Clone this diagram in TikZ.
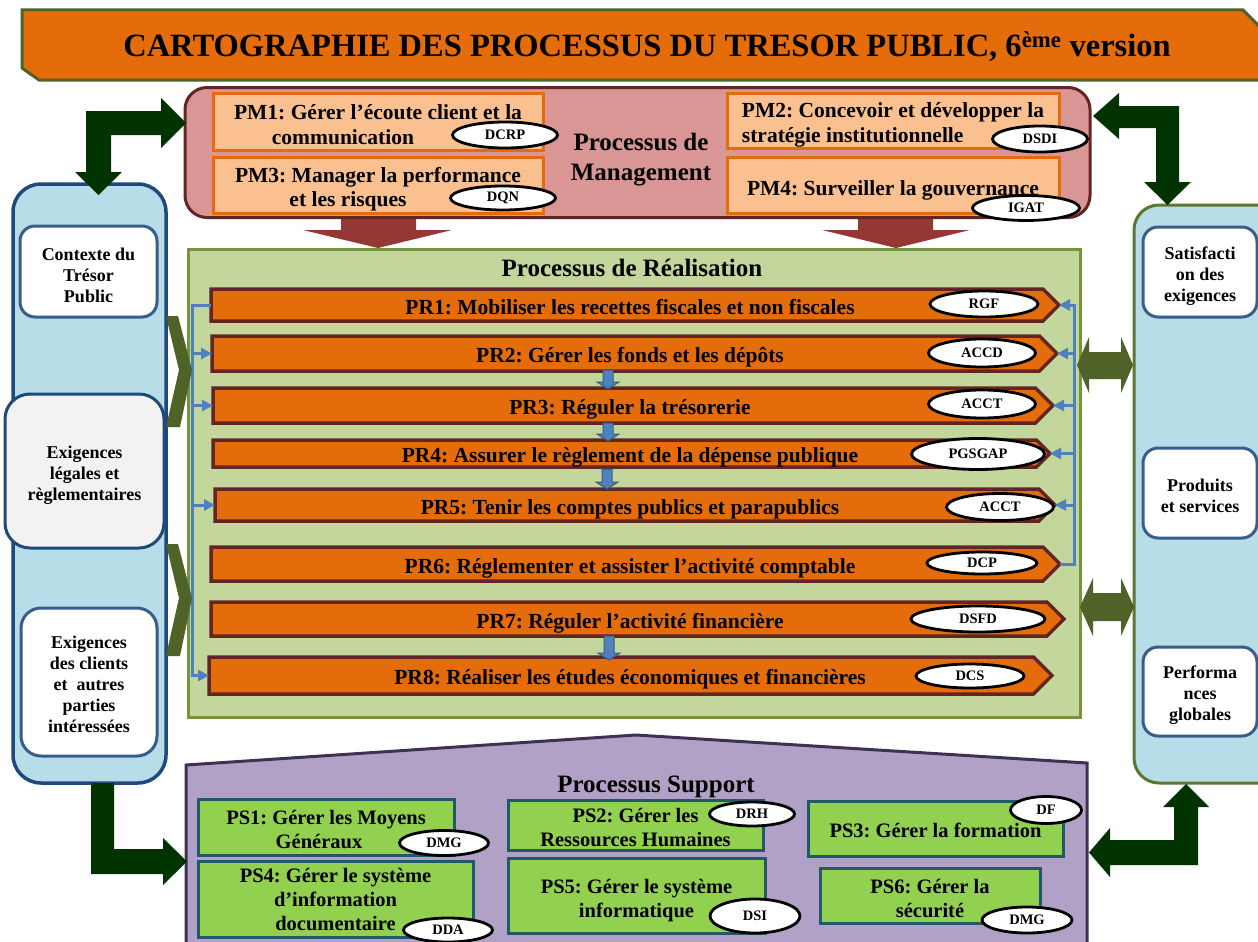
\documentclass[tikz,border=0pt]{standalone}
\usepackage{fontspec}
\setmainfont{Liberation Serif}
\usetikzlibrary{shapes.geometric,arrows.meta}
\frenchspacing
\definecolor{torange}{HTML}{E46C0A}
\definecolor{olive}{HTML}{4F6228}
\definecolor{oliveb}{HTML}{77933C}
\definecolor{rpborder}{HTML}{5F7632}
\definecolor{maroon}{HTML}{632523}
\definecolor{mgfill}{HTML}{D99694}
\definecolor{pmfill}{HTML}{FAC090}
\definecolor{rfill}{HTML}{C3D69B}
\definecolor{lblue}{HTML}{B7DEE8}
\definecolor{dblue}{HTML}{1F497D}
\definecolor{mblue}{HTML}{385D8A}
\definecolor{cblue}{HTML}{4F81BD}
\definecolor{redarrow}{HTML}{953735}
\definecolor{dgreen}{HTML}{003300}
\definecolor{supfill}{HTML}{B2A1C7}
\definecolor{supdraw}{HTML}{3F3151}
\definecolor{psfill}{HTML}{92D050}
\definecolor{psdraw}{HTML}{215968}
\definecolor{greyfill}{HTML}{F2F2F2}
\newcommand{\mystrut}[1]{\rule{0pt}{#1pt}}
% name, x left, x tip, y top, y bottom, text
\newcommand{\prshape}[6]{%
  \pgfmathsetmacro{\prYc}{(#4+#5)/2}%
  \pgfmathsetmacro{\prXc}{#3-(#5-#4)/2}%
  \draw[prs] (#2,#4) -- (\prXc,#4) -- (#3,\prYc) -- (\prXc,#5) -- (#2,#5) -- cycle;
  \coordinate (#1-w) at (#2,\prYc);
  \coordinate (#1-e) at (#3,\prYc);
  \node[prtext] (#1) at (630,{\prYc+9}) {#6};
}
% x, y top, y tip
\newcommand{\bluedown}[3]{%
  \filldraw[fill=cblue, draw=mblue, line width=1pt] ({#1-5},#2) -- ({#1+5},#2) -- ({#1+5},{#3-7}) -- ({#1+11},{#3-7}) -- (#1,#3) -- ({#1-11},{#3-7}) -- ({#1-5},{#3-7}) -- cycle;}
\begin{document}
\begin{tikzpicture}[x=1pt,y=-1pt,
  pmbox/.style={draw=torange, fill=pmfill, line width=3pt, inner sep=0pt, align=center, font=\fontsize{21.5}{24.5}\selectfont\bfseries},
  psbox/.style={draw=psdraw, fill=psfill, line width=3pt, inner sep=0pt, align=center, font=\fontsize{20.5}{24}\selectfont\bfseries},
  tag/.style={ellipse, draw=black, line width=2.8pt, fill=white, inner sep=0pt, font=\fontsize{14.5}{16}\selectfont\bfseries},
  heading/.style={inner sep=0pt, align=center, font=\fontsize{25}{30}\selectfont\bfseries},
  prs/.style={draw=maroon, fill=torange, line width=3.5pt},
  prtext/.style={anchor=base, inner sep=0pt, font=\fontsize{21.5}{25}\selectfont\bfseries},
  panelbox/.style={draw=mblue, fill=white, line width=3pt, rounded corners=15pt, inner sep=0pt, align=center, font=\fontsize{18}{21}\selectfont\bfseries},
  busarrow/.style={draw=cblue, line width=3pt, -{Triangle[length=11pt,width=11pt]}},
  darrow/.style={fill=dgreen},
  oarrow/.style={fill=olive},
  rarrow/.style={fill=redarrow}]
\useasboundingbox (0,0) rectangle (1258,942);
\fill[white] (0,0) rectangle (1258,942);

% ---------- title ----------
\filldraw[draw=olive, fill=torange, line width=3pt] (22,10) -- (1243,10) -- (1262,29) -- (1262,80) -- (39,80) -- (22,68) -- cycle;
\node[anchor=base, inner sep=0pt, font=\fontsize{32.5}{36}\selectfont\bfseries] (title) at (647,57) {CARTOGRAPHIE DES PROCESSUS DU TRESOR PUBLIC, 6\textsuperscript{ème} version};

% ---------- management ----------
\fill[rarrow] (341,214) -- (416,214) -- (416,230) -- (452,230) -- (378,248) -- (303,230) -- (341,230) -- cycle;
\fill[rarrow] (858,214) -- (933,214) -- (933,230) -- (970,230) -- (896,248) -- (822,230) -- (858,230) -- cycle;
\node[draw=maroon, fill=mgfill, line width=3pt, rounded corners=22pt, minimum width=905pt, minimum height=130pt] (mgmt) at (637.5,152.5) {};
\node[pmbox, minimum width=330pt, minimum height=57pt] (pm1) at (378,121.5) {\mystrut{21}PM1: Gérer l’écoute client et la\\communication\hspace*{70pt}};
\node[pmbox, minimum width=330pt, minimum height=56pt] (pm3) at (378,185) {\mystrut{24}PM3: Manager la performance\\et les risques\hspace*{60pt}};
\node[pmbox, align=left, minimum width=332pt, minimum height=55pt] (pm2) at (893,120.5) {\mystrut{24}PM2: Concevoir et développer la\\stratégie institutionnelle};
\node[pmbox, minimum width=332pt, minimum height=56pt] (pm4) at (893,185) {\mystrut{25}PM4: Surveiller la gouvernance};
\node[heading] (mgtitle) at (641,160) {Processus de\\Management};
\node[tag, minimum width=105pt, minimum height=26pt] (dcrp) at (505,135) {DCRP};
\node[tag, minimum width=105pt, minimum height=24pt] (dqn) at (503,198) {DQN};
\node[tag, minimum width=95pt, minimum height=26pt] (dsdi) at (1040,139) {DSDI};
\node[tag, minimum width=107pt, minimum height=25pt] (igat) at (1026,208) {IGAT};

% ---------- realisation ----------
\node[draw=oliveb, fill=rfill, line width=3pt, minimum width=892pt, minimum height=468pt] (real) at (634,483) {};
\node[heading, anchor=base] (rtitle) at (632,276) {Processus de Réalisation};
\prshape{pr1}{211}{1059}{289}{321}{PR1: Mobiliser les recettes fiscales et non fiscales}
\prshape{pr2}{212}{1057}{336}{371}{PR2: Gérer les fonds et les dépôts}
\prshape{pr3}{213}{1053}{388}{423}{PR3: Réguler la trésorerie}
\prshape{pr4}{213}{1050}{440}{467}{PR4: Assurer le règlement de la dépense publique}
\prshape{pr5}{215}{1055}{489}{521}{PR5: Tenir les comptes publics et parapublics}
\prshape{pr6}{211}{1060}{547}{581}{PR6: Réglementer et assister l’activité comptable}
\prshape{pr7}{211}{1064}{602}{636}{PR7: Réguler l’activité financière}
\prshape{pr8}{209}{1052}{657}{694}{PR8: Réaliser les études économiques et financières}
\coordinate (lbus) at (192,300);
\coordinate (rbus) at (1074,300);
\draw[busarrow] (pr1-w) -- (pr1-w -| lbus) -- (pr8-w -| lbus) -- (pr8-w);
\foreach \k in {2,3,5} {\draw[busarrow] (pr\k-w -| lbus) -- (pr\k-w);}
\draw[busarrow] (pr6-e) -- (pr6-e -| rbus) -- (pr1-e -| rbus) -- (pr1-e);
\foreach \k in {2,3,4,5} {\draw[busarrow] (pr\k-e -| rbus) -- (pr\k-e);}
\bluedown{608}{370}{389}
\bluedown{608}{423}{441}
\bluedown{607}{469}{489}
\bluedown{609}{636}{660}
\node[tag, minimum width=108pt, minimum height=26pt] (rgf) at (984,304) {RGF};
\node[tag, minimum width=107pt, minimum height=28pt] (accd) at (982,353) {ACCD};
\node[tag, minimum width=107pt, minimum height=28pt] (accta) at (982,404) {ACCT};
\node[tag, minimum width=133pt, minimum height=31pt] (pgsgap) at (978,454) {PGSGAP};
\node[tag, minimum width=107pt, minimum height=27pt] (acctb) at (1000,507) {ACCT};
\node[tag, minimum width=110pt, minimum height=22pt] (dcp) at (982,563) {DCP};
\node[tag, minimum width=134pt, minimum height=26pt] (dsfd) at (978,619) {DSFD};
\node[tag, minimum width=108pt, minimum height=24pt] (dcs) at (970,676) {DCS};

% ---------- left panel ----------
\node[draw=dblue, fill=lblue, line width=3.5pt, rounded corners=28pt, minimum width=153pt, minimum height=599pt] (lpanel) at (89.5,483.5) {};
\node[panelbox, minimum width=137pt, minimum height=91pt] (ctx) at (88.5,271.5) {\mystrut{20}Contexte du\\Trésor\\Public};
\node[panelbox, fill=greyfill, draw=dblue, rounded corners=25pt, minimum width=159pt, minimum height=154pt] (legal) at (84.5,471) {\mystrut{20}Exigences\\légales et\\règlementaires};
\node[panelbox, rounded corners=20pt, minimum width=136pt, minimum height=148pt] (clients) at (89,682) {\mystrut{17}Exigences\\des clients\\et\ \ autres\\parties\\intéressées};
\fill[oarrow] (166,316) -- (178,316) -- (192,370) -- (180,427) -- (166,427) -- (179,370) -- cycle;
\fill[oarrow] (166,544) -- (178,544) -- (192,598) -- (180,656) -- (166,656) -- (179,598) -- cycle;

% ---------- right panel ----------
\node[draw=rpborder, fill=lblue, line width=3pt, rounded corners=25pt, minimum width=150pt, minimum height=578pt] (rpanel) at (1209,494) {};
\node[panelbox, minimum width=114pt, minimum height=90pt] (satis) at (1200,272) {\mystrut{20}Satisfacti\\on des\\exigences};
\node[panelbox, minimum width=114pt, minimum height=90pt] (prod) at (1200,493) {\mystrut{19}Produits\\et services};
\node[panelbox, minimum width=114pt, minimum height=89pt] (perf) at (1200,691.5) {\mystrut{19}Performa\\nces\\globales};
\fill[oarrow] (1077,365) -- (1089,337) -- (1089,352) -- (1121,352) -- (1121,337) -- (1133,365) -- (1121,393) -- (1121,379) -- (1089,379) -- (1089,393) -- cycle;
\fill[oarrow] (1080,607) -- (1093,578) -- (1093,593) -- (1121,593) -- (1121,578) -- (1134,607) -- (1121,636) -- (1121,621) -- (1093,621) -- (1093,636) -- cycle;

% ---------- support ----------
\filldraw[draw=supdraw, fill=supfill, line width=3pt] (186,950) -- (186,765) -- (636,735) -- (1087,763) -- (1087,950) -- cycle;
\node[heading, anchor=base] (stitle) at (656,792) {Processus Support};
\node[psbox, minimum width=256pt, minimum height=56pt] (ps1) at (326,827) {\mystrut{20}PS1: Gérer les Moyens\\Généraux\hspace*{14pt}};
\node[psbox, minimum width=275pt, minimum height=76pt] (ps4) at (335.5,899) {PS4: Gérer le système\\d’information\\documentaire};
\node[psbox, minimum width=255pt, minimum height=50pt] (ps2) at (635.5,825) {\mystrut{19}PS2: Gérer les\\Ressources Humaines};
\node[psbox, minimum width=257pt, minimum height=75pt] (ps5) at (636.5,895.5) {\mystrut{25}PS5: Gérer le système\\informatique};
\node[psbox, minimum width=255pt, minimum height=55pt] (ps3) at (935.5,828.5) {\mystrut{19}PS3: Gérer la formation};
\node[psbox, minimum width=220pt, minimum height=55pt] (ps6) at (930,895.5) {\mystrut{21}PS6: Gérer la\\sécurité};
\node[tag, minimum width=89pt, minimum height=25pt] (dmga) at (444,843) {DMG};
\node[tag, minimum width=89pt, minimum height=24pt] (dda) at (448,930) {DDA};
\node[tag, minimum width=85pt, minimum height=24pt] (drh) at (752,814) {DRH};
\node[tag, minimum width=90pt, minimum height=34pt] (dsi) at (755,916) {DSI};
\node[tag, minimum width=71pt, minimum height=27pt] (df) at (1046,810) {DF};
\node[tag, minimum width=90pt, minimum height=26pt] (dmgb) at (1027,920) {DMG};

% ---------- dark green elbow arrows ----------
\fill[darrow] (86,111) -- (161,111) -- (161,98) -- (186,123) -- (161,148) -- (161,135) -- (111,135) -- (111,172) -- (122,172) -- (98.5,195) -- (75,172) -- (86,172) -- cycle;
\fill[darrow] (1093,116) -- (1119,93) -- (1119,106) -- (1179,106) -- (1179,182) -- (1191,182) -- (1167.5,205) -- (1144,182) -- (1156,182) -- (1156,128) -- (1119,128) -- (1119,139) -- cycle;
\fill[darrow] (91,783) -- (114,783) -- (114,849) -- (163,849) -- (163,838) -- (187,861.5) -- (163,885) -- (163,874) -- (91,874) -- cycle;
\fill[darrow] (1186,784) -- (1209,807) -- (1198,807) -- (1198,865) -- (1110,865) -- (1110,877) -- (1089,852.5) -- (1110,828) -- (1110,840) -- (1174,840) -- (1174,807) -- (1163,807) -- cycle;
\end{tikzpicture}
\end{document}
